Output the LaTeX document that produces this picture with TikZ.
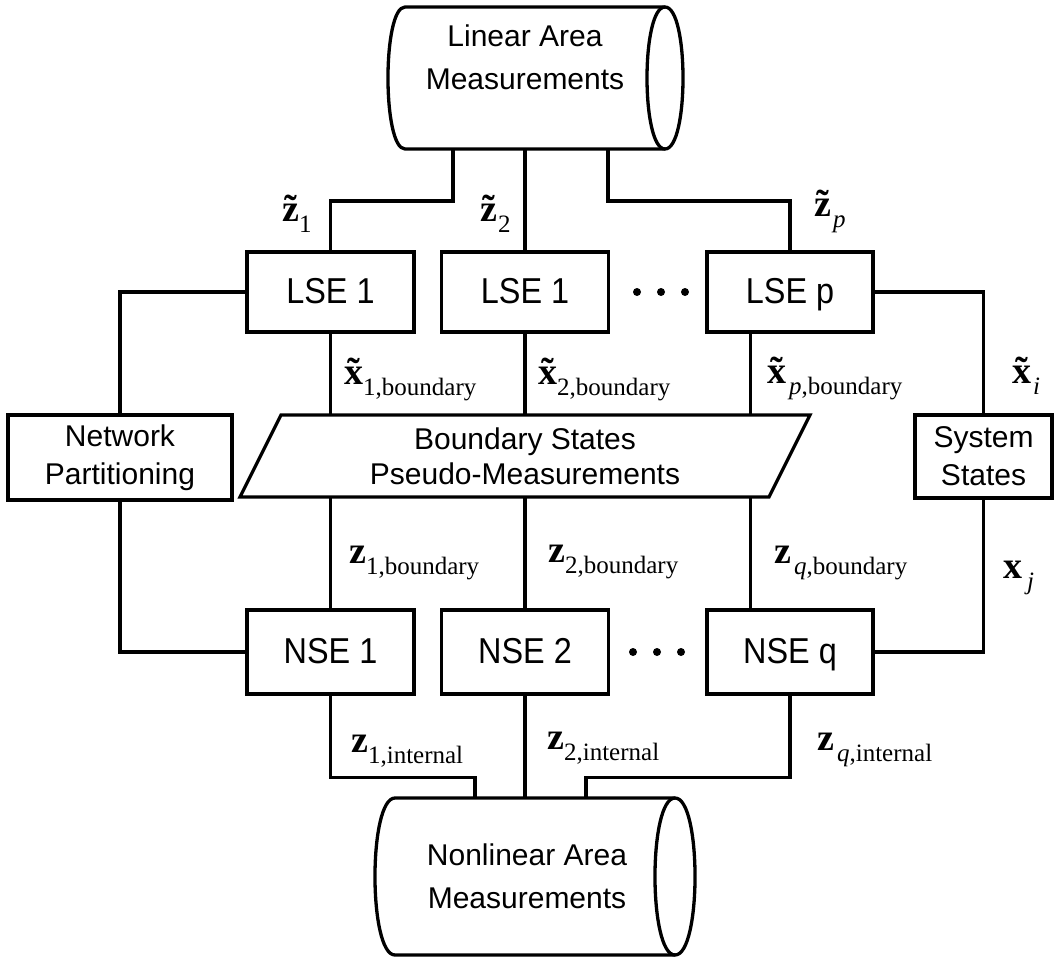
\documentclass[tikz,border=0pt]{standalone}
\usepackage{fontspec}
\setmainfont{Liberation Serif}
\newfontfamily\boxfont{Liberation Sans}
\newfontfamily\blkfont[FakeStretch=0.9]{Liberation Sans}
\usetikzlibrary{calc}

% bold symbol with a tilde set over it
\newcommand{\tl}[1]{\ooalign{#1\cr\hidewidth\char"02DC\hidewidth\cr}}
\newcommand{\mainsz}{\fontsize{38}{38}\selectfont}
\newcommand{\subsz}{\fontsize{25}{25}\selectfont}
% symbol and lowered subscript
\newcommand{\lab}[2]{{\mainsz\bfseries #1}\raisebox{-11pt}{\subsz #2}}

\tikzset{
  ln/.style={line width=3.3pt, line join=miter},
  blk/.style={draw, line width=3.3pt, minimum width=167pt, minimum height=80pt,
    inner sep=0pt, text height=22pt, text depth=0pt,
    font=\blkfont\fontsize{36}{40}\selectfont},
  sidebox/.style={draw, line width=3.3pt, inner sep=0pt, align=center,
    font=\boxfont\fontsize{30}{38}\selectfont},
  cyltext/.style={inner sep=0pt, align=center,
    font=\boxfont\fontsize{30}{43}\selectfont},
  lbl/.style={anchor=base west, inner sep=0pt},
  dot/.style={fill=black}
}

\begin{document}
\begin{tikzpicture}[x=1pt, y=-1pt]
\useasboundingbox (0,0) rectangle (1056,957);

% --- linear measurements store (top cylinder)
\draw[ln] (405,7) -- (665,7) .. controls (689,7) and (689,149) .. (665,149)
  -- (405,149) .. controls (382.3,149) and (382.3,7) .. cycle;
\draw[ln] (665,7) .. controls (641,7) and (641,149) .. (665,149);
\node[cyltext] (lam) at (525,57.75) {Linear Area\\Measurements};
\coordinate (lamB1) at (453,149);
\coordinate (lamB2) at (525,149);
\coordinate (lamB3) at (608,149);

% --- nonlinear measurements store (bottom cylinder)
\draw[ln] (395,798) -- (675,798) .. controls (701.7,798) and (701.7,955) .. (675,955)
  -- (395,955) .. controls (368.3,955) and (368.3,798) .. cycle;
\draw[ln] (675,798) .. controls (648.3,798) and (648.3,955) .. (675,955);
\node[cyltext] (nlam) at (527,876.25) {Nonlinear Area\\Measurements};
\coordinate (nlamT1) at (475,798);
\coordinate (nlamT2) at (525,798);
\coordinate (nlamT3) at (586,798);

% --- linear state estimators
\node[blk] (lse1) at (330.5,292) {LSE 1};
\node[blk] (lse2) at (525,292) {LSE 1};
\node[blk, minimum width=166pt] (lsep) at (790,292) {LSE p};

% --- nonlinear state estimators
\node[blk, minimum height=84pt] (nse1) at (330.5,652) {NSE 1};
\node[blk, minimum height=84pt] (nse2) at (525,652) {NSE 2};
\node[blk, minimum height=84pt, minimum width=166pt] (nseq) at (790,652) {NSE q};

% --- ellipsis dots
\fill[dot] (637,292) circle[radius=4pt];
\fill[dot] (661,292) circle[radius=4pt];
\fill[dot] (685,292) circle[radius=4pt];
\fill[dot] (633,652) circle[radius=4pt];
\fill[dot] (657,652) circle[radius=4pt];
\fill[dot] (681,652) circle[radius=4pt];

% --- side boxes
\node[sidebox, minimum width=224pt, minimum height=85pt] (np) at (120,457.5)
  {Network\\Partitioning};
\node[sidebox, minimum width=137pt, minimum height=83pt] (ss) at (983.5,456.5)
  {System\\States};

% --- boundary pseudo-measurements (parallelogram)
\draw[ln] (281,415) -- (810,415) -- (769,497) -- (240,497) -- cycle;
\node[inner sep=0pt, align=center, font=\boxfont\fontsize{30}{35}\selectfont]
  (bs) at (525,456) {Boundary States\\Pseudo-Measurements};
\coordinate (bsT) at (525,415);
\coordinate (bsB) at (525,497);

% --- measurements to linear estimators
\draw[ln] (lamB1) -- ++(0,52) -| (lse1.north);
\draw[ln] (lamB2) -- (lse2.north);
\draw[ln] (lamB3) -- ++(0,52) -| (lsep.north);

% --- partitioning and system states loops
\draw[ln] (lse1.west) -| (np.north);
\draw[ln] (np.south) |- (nse1.west);
\draw[ln] (lsep.east) -| (ss.north);
\draw[ln] (ss.south) |- (nseq.east);

% --- boundary states through the pseudo-measurements
\coordinate (qcol) at ($(lsep.south west)+(45,0)$);
\draw[ln] (lse1.south) -- (lse1.south |- bsT);
\draw[ln] (lse1.south |- bsB) -- (nse1.north);
\draw[ln] (lse2.south) -- (lse2.south |- bsT);
\draw[ln] (lse2.south |- bsB) -- (nse2.north);
\draw[ln] (qcol) -- (qcol |- bsT);
\draw[ln] (qcol |- bsB) -- (qcol |- nseq.north);

% --- internal measurements to nonlinear estimators
\draw[ln] (nse1.south) -- ++(0,82) -| (nlamT1);
\draw[ln] (nse2.south) -- (nlamT2);
\draw[ln] (nseq.south) -- ++(0,82) -| (nlamT3);

% --- signal labels
\node[lbl] (lz1) at (282,222) {\lab{\tl{z}}{1}};
\node[lbl] (lz2) at (480,222) {\lab{\tl{z}}{\hspace{1pt}2}};
\node[lbl] (lzp) at (814,217) {\lab{\tl{z}}{\hspace{2pt}\textit{p}}};

\node[lbl] (lx1) at (344,384) {\lab{\tl{x}}{1,boundary}};
\node[lbl] (lx2) at (538,384) {\lab{\tl{x}}{2,boundary}};
\node[lbl] (lxp) at (767,383) {\lab{\tl{x}}{\hspace{3pt}\textit{p},boundary}};
\node[lbl] (lxi) at (1012,383) {\lab{\tl{x}}{\hspace{2pt}\textit{i}}};

\node[lbl] (lzb1) at (349,563) {\lab{z}{1,boundary}};
\node[lbl] (lzb2) at (548,562) {\lab{z}{2,boundary}};
\node[lbl] (lzbq) at (774,563) {\lab{z}{\hspace{3pt}\textit{q},boundary}};
\node[lbl] (lxj) at (1003,578) {\lab{x}{\hspace{5pt}\textit{j}}};

\node[lbl] (lzi1) at (351,752) {\lab{z}{1,internal}};
\node[lbl] (lzi2) at (547,749) {\lab{z}{2,internal}};
\node[lbl] (lziq) at (817,750) {\lab{z}{\hspace{3pt}\textit{q},internal}};
\end{tikzpicture}
\end{document}
